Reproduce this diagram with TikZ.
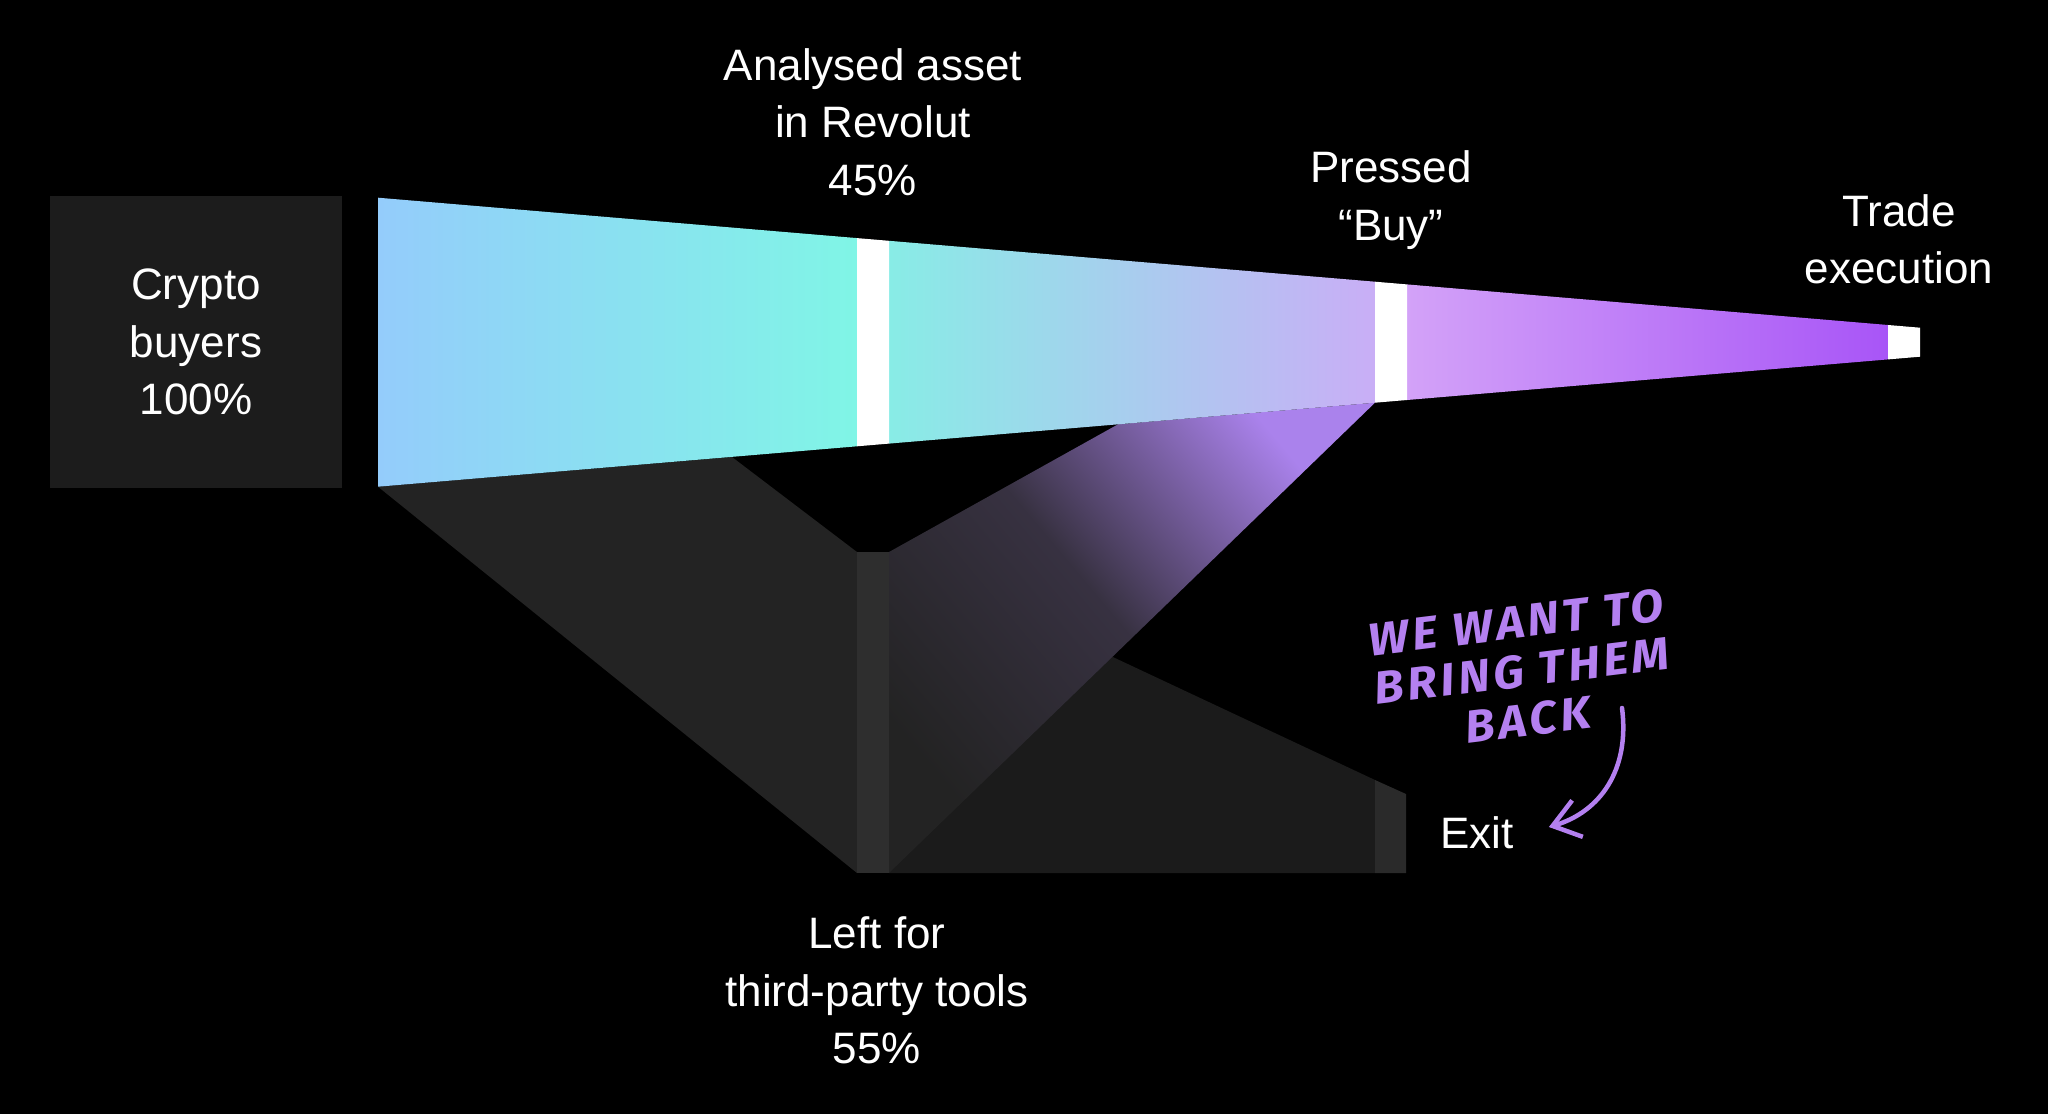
\documentclass[tikz,border=0pt]{standalone}
\usepackage{fontspec}
\setmainfont{Liberation Sans}
\newfontfamily\handfont[LetterSpace=8]{Fira Sans}
\usetikzlibrary{arrows.meta,positioning}
\definecolor{boxgrey}{RGB}{28,28,28}
\definecolor{leftgrey}{RGB}{35,35,35}
\definecolor{bargrey}{RGB}{46,46,46}
\definecolor{exitgrey}{RGB}{27,27,27}
\definecolor{exitbargrey}{RGB}{42,42,42}
\definecolor{skyblue}{RGB}{148,204,251}
\definecolor{aqua}{RGB}{128,245,230}
\definecolor{aqualight}{RGB}{136,236,230}
\definecolor{lavender}{RGB}{201,174,246}
\definecolor{lilac}{RGB}{211,162,248}
\definecolor{violet}{RGB}{168,85,247}
\definecolor{dropviolet}{RGB}{170,130,236}
\definecolor{handpurple}{RGB}{180,128,240}
\tikzset{stagetext/.style={text=white,align=center,inner sep=0pt,font=\fontsize{44}{57.5}\selectfont}}
\tikzset{stepbar/.style={fill=white}}
\tikzset{handnote/.style={text=handpurple,align=center,inner sep=0pt,font=\handfont\bfseries\itshape\fontsize{46}{49}\selectfont}}
\tikzset{notearrow/.style={handpurple,line width=4.5pt,line cap=round,line join=round,-{Straight Barb[length=26pt,width=38pt]}}}

\begin{document}
\begin{tikzpicture}[x=1pt,y=-1pt]
\fill[black] (0,0) rectangle (2048,1114);
\useasboundingbox (0,0) rectangle (2048,1114);
% flows that drop out
\fill[exitgrey] (889,552) -- (1375,780) -- (1375,873) -- (889,873) -- cycle;
\fill[leftgrey] (378,486.7) -- (732,457) -- (857,552) -- (857,873) -- cycle;
\shade[bottom color=leftgrey,top color=dropviolet,middle color=leftgrey!85!dropviolet,shading angle=-50]
  (1118,424.3) -- (1375,402.7) -- (889,873) -- (889,552) -- cycle;
\fill[bargrey] (857,552) rectangle (889,873);
\fill[exitbargrey] (1375,780) -- (1406,794) -- (1406,873) -- (1375,873) -- cycle;
% funnel
\shade[left color=skyblue,right color=aqua] (378,197.7) -- (857,238.1) -- (857,446.3) -- (378,486.7) -- cycle;
\shade[left color=aqualight,right color=lavender] (889,240.8) -- (1375,281.7) -- (1375,402.7) -- (889,443.6) -- cycle;
\shade[left color=lilac,right color=violet] (1407,284.4) -- (1888,325) -- (1888,359.4) -- (1407,400) -- cycle;
\fill[stepbar] (857,238.1) -- (889,240.8) -- (889,443.6) -- (857,446.3) -- cycle;
\fill[stepbar] (1375,281.7) -- (1407,284.4) -- (1407,400) -- (1375,402.7) -- cycle;
\fill[stepbar] (1888,325) -- (1920,327.7) -- (1920,356.7) -- (1888,359.4) -- cycle;
% labels
\node[stagetext,fill=boxgrey,minimum width=292pt,minimum height=292pt] (buyers) at (196,342) {Crypto\\buyers\\100\%};
\node[stagetext] (analysed) at (873,122) {Analysed asset\\in Revolut\\45\%};
\node[stagetext] (pressed) at (1391,200.3) {Pressed\\“Buy”};
\node[stagetext] (trade) at (1899,239.3) {Trade\\execution};
\node[stagetext] (leftfor) at (877,990.5) {Left for\\third-party tools\\55\%};
\node[stagetext] (exit) at (1477,832.5) {Exit};
\node[handnote,rotate=7,xscale=1.05] (note) at (1522,671) {WE WANT TO\\BRING THEM\\BACK};
\coordinate (bringback) at (1622,708);
\draw[notearrow] (bringback) .. controls (1630,770) and (1600,812) .. ([xshift=35pt,yshift=5.5pt]exit.east);
\end{tikzpicture}
\end{document}
